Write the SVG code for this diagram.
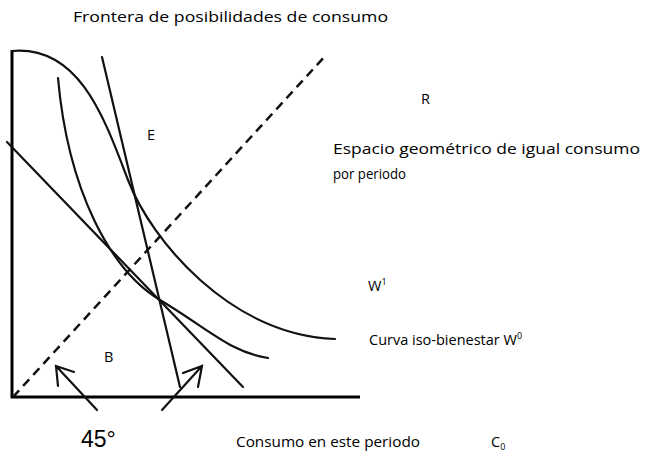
<svg xmlns="http://www.w3.org/2000/svg" width="653" height="453" viewBox="0 0 653 453">
<style>
.ax{stroke:#000;stroke-width:3;fill:none}
.ln{stroke:#111;stroke-width:2.2;fill:none;stroke-linecap:round}
.ds{stroke:#111;stroke-width:2.5;fill:none;stroke-dasharray:9 6}
.t{font-family:"Open Sans","Liberation Sans",sans-serif;font-size:14.5px;fill:#000}
.a{font-family:"Liberation Sans",Arial,sans-serif;font-size:23px;fill:#000}
</style>
<rect width="653" height="453" fill="#fff"/>
<g id="axes">
<path class="ax" d="M12,50 V397 H360"/>
</g>
<g id="connectors">
<path id="frontier" class="ln" d="M12,51 C80,45 105,120 128,180 S230,335 335,339"/>
<path id="w0" class="ln" d="M58,78 C68,190 110,270 160,300 S230,352 268,358"/>
<path id="steep" class="ln" d="M102,57 L180,387"/>
<path id="budget" class="ln" d="M7,142 L243,387"/>
<path id="line45" class="ds" d="M13,397 L327,54"/>
<path id="arrow-left" class="ln" d="M97,410 L56,366 M58,386 L56,366 L74,372"/>
<path id="arrow-right" class="ln" d="M162,410 L202,366 M198,387 L202,366 L183,373"/>
</g>
<g id="labels">
<text class="t" x="73" y="22" textLength="315" lengthAdjust="spacingAndGlyphs">Frontera de posibilidades de consumo</text>
<text class="t" x="421" y="104">R</text>
<text class="t" x="147" y="140">E</text>
<text class="t" x="333" y="154" textLength="307" lengthAdjust="spacingAndGlyphs">Espacio geométrico de igual consumo</text>
<text class="t" x="333" y="179" textLength="73" lengthAdjust="spacingAndGlyphs">por periodo</text>
<text class="t" x="368" y="291">W<tspan font-size="9" dy="-6">1</tspan></text>
<text class="t" x="369" y="345">Curva iso-bienestar W<tspan font-size="9" dy="-6">0</tspan></text>
<text class="t" x="104" y="362">B</text>
<text class="a" x="81" y="447">45°</text>
<text class="t" x="236" y="447" textLength="184" lengthAdjust="spacingAndGlyphs">Consumo en este periodo</text>
<text class="t" x="491" y="447">C<tspan font-size="9" dy="3">0</tspan></text>
</g>
</svg>
